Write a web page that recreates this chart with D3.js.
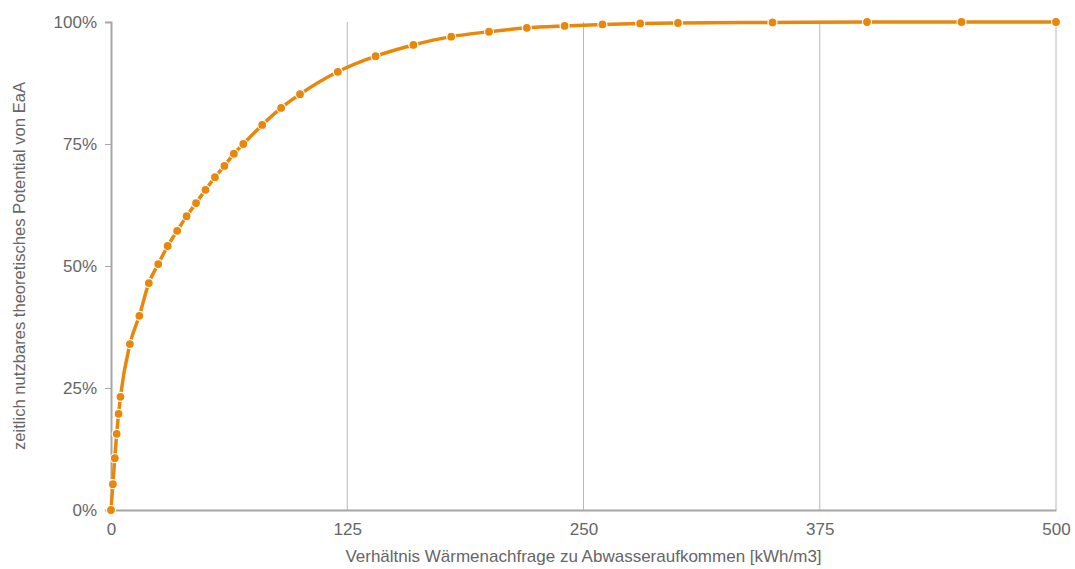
<!DOCTYPE html>
<html>
<head>
<meta charset="utf-8">
<script src="https://cdn.jsdelivr.net/npm/d3@7"></script>
<style>
  html, body { margin: 0; padding: 0; background: #fff; }
  svg { display: block; font-family: "Liberation Sans", Arial, Helvetica, sans-serif; }
</style>
</head>
<body>
<svg id="chart" width="1075" height="569"></svg>
<script>
// Data: ratio (kWh/m3) vs. usable share of theoretical potential
const ratios = [0, 1, 2, 3, 4, 5, 10, 15, 20, 25, 30, 35, 40, 45, 50, 55, 60, 65, 70, 80, 90, 100,
                120, 140, 160, 180, 200, 220, 240, 260, 280, 300, 350, 400, 450, 500];
const shares = [0, 0.053, 0.106, 0.156, 0.197, 0.232, 0.340, 0.398, 0.465, 0.504, 0.541, 0.572,
                0.602, 0.629, 0.656, 0.682, 0.705, 0.730, 0.750, 0.789, 0.824, 0.852,
                0.898, 0.930, 0.953, 0.970, 0.980, 0.988, 0.992, 0.995, 0.997, 0.998,
                0.999, 1.0, 1.0, 1.0];
const xTicks = [0, 125, 250, 375, 500];
const yTicks = [0, 0.25, 0.5, 0.75, 1.0];
const xTitle = "Verhältnis Wärmenachfrage zu Abwasseraufkommen [kWh/m3]";
const yTitle = "zeitlich nutzbares theoretisches Potential von EaA";

const svg = d3.select("#chart");
const margin = { left: 111, right: 19, top: 22, bottom: 59 };
const W = 1075, H = 569;
const x = d3.scaleLinear().domain([0, 500]).range([margin.left, W - margin.right]);
const y = d3.scaleLinear().domain([0, 1]).range([H - margin.bottom, margin.top]);

const textColor = "#666";
const orange = "#E8870A";
const fs = "17px";

// vertical gridlines
svg.append("g")
  .selectAll("line")
  .data(xTicks.filter(d => d > 0))
  .join("line")
  .attr("x1", d => x(d)).attr("x2", d => x(d))
  .attr("y1", y(1)).attr("y2", y(0))
  .attr("stroke", "#b8b8b8").attr("stroke-width", 1);

// x axis
const xAxis = svg.append("g")
  .attr("transform", `translate(0,${y(0)})`)
  .call(d3.axisBottom(x).tickValues(xTicks).tickSize(0).tickPadding(13).tickFormat(d3.format("d")));
xAxis.select(".domain").attr("stroke", "#a6a6a6").attr("stroke-width", 2);
xAxis.selectAll("text").attr("fill", textColor).style("font-size", fs)
  .style("font-family", "'Liberation Sans', Arial, sans-serif");

// y axis
const yAxis = svg.append("g")
  .attr("transform", `translate(${x(0)},0)`)
  .call(d3.axisLeft(y).tickValues(yTicks).tickSize(6).tickPadding(8).tickFormat(d3.format(".0%")));
yAxis.select(".domain").attr("stroke", "#a6a6a6").attr("stroke-width", 2);
yAxis.selectAll(".tick line").attr("stroke", "#a6a6a6");
yAxis.selectAll("text").attr("fill", textColor).style("font-size", fs)
  .style("font-family", "'Liberation Sans', Arial, sans-serif");

// axis titles
svg.append("text")
  .attr("x", (x(0) + x(500)) / 2).attr("y", 562)
  .attr("text-anchor", "middle").attr("fill", textColor).style("font-size", fs)
  .text(xTitle);
svg.append("text")
  .attr("transform", `translate(25,${(y(0) + y(1)) / 2}) rotate(-90)`)
  .attr("text-anchor", "middle").attr("fill", textColor).style("font-size", "16.6px")
  .text(yTitle);

// line
const data = ratios.map((r, i) => ({ r, s: shares[i] }));
svg.append("path")
  .datum(data)
  .attr("fill", "none")
  .attr("stroke", orange).attr("stroke-width", 3.5)
  .attr("stroke-linejoin", "round")
  .attr("d", d3.line().x(d => x(d.r)).y(d => y(d.s)).curve(d3.curveMonotoneX));

// markers
svg.append("g")
  .selectAll("circle")
  .data(data)
  .join("circle")
  .attr("cx", d => x(d.r)).attr("cy", d => y(d.s))
  .attr("r", 4.5)
  .attr("fill", orange)
  .attr("stroke", "#fff").attr("stroke-width", 1.2);
</script>
</body>
</html>
